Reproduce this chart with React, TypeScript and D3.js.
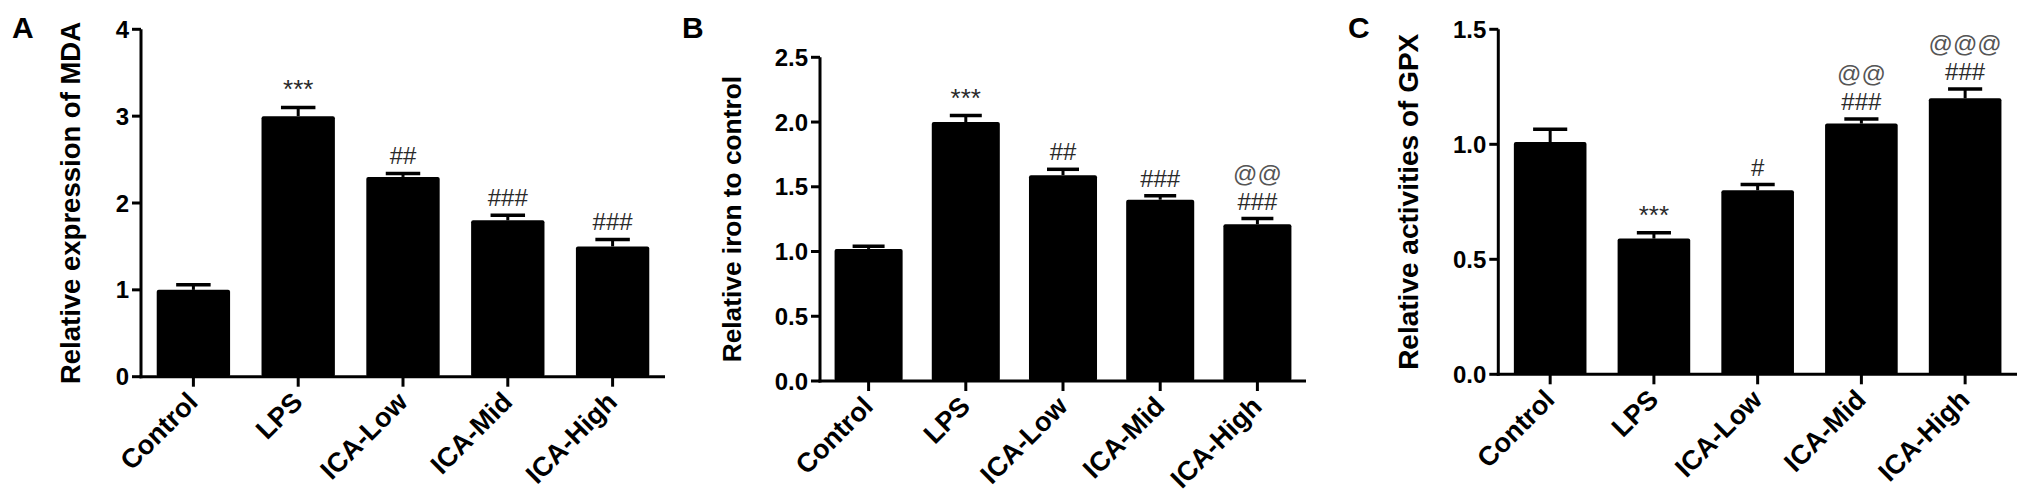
import React from "react";
import * as d3 from "d3";

const categories = ["Control", "LPS", "ICA-Low", "ICA-Mid", "ICA-High"];

const mdaMean = [1.0, 3.0, 2.3, 1.8, 1.5];
const mdaErr = [0.06, 0.1, 0.04, 0.06, 0.08];
const mdaAnn = [[], ["***"], ["##"], ["###"], ["###"]];
const mdaTicks = [0, 1, 2, 3, 4];

const ironMean = [1.02, 2.0, 1.59, 1.4, 1.21];
const ironErr = [0.02, 0.05, 0.045, 0.03, 0.045];
const ironAnn = [[], ["***"], ["##"], ["###"], ["###", "@@"]];
const ironTicks = [0, 0.5, 1.0, 1.5, 2.0, 2.5];

const gpxMean = [1.01, 0.59, 0.8, 1.09, 1.2];
const gpxErr = [0.055, 0.025, 0.025, 0.02, 0.04];
const gpxAnn = [[], ["***"], ["#"], ["###", "@@"], ["###", "@@@"]];
const gpxTicks = [0, 0.5, 1.0, 1.5];

const FONT = "Arial, 'Liberation Sans', Helvetica, sans-serif";

type PanelProps = {
  letter: string;
  letterX: number;
  title: string;
  titleSize: number;
  titleX: number;
  x0: number;
  x1: number;
  yTop: number;
  yBottom: number;
  yMax: number;
  ticks: number[];
  fmt: (v: number) => string;
  means: number[];
  errs: number[];
  ann: string[][];
};

function Panel(p: PanelProps) {
  const x = d3.scaleBand<string>().domain(categories).range([p.x0, p.x1]).paddingInner(0.3).paddingOuter(0.15);
  const y = d3.scaleLinear().domain([0, p.yMax]).range([p.yBottom, p.yTop]);
  const bw = x.bandwidth();
  const capW = bw * 0.47;
  const yc = (p.yTop + p.yBottom) / 2;
  return (
    <g>
      <text x={p.letterX} y={38} fontFamily={FONT} fontWeight="bold" fontSize={30} fill="#000">
        {p.letter}
      </text>
      <text
        transform={`translate(${p.titleX},${yc}) rotate(-90)`}
        textAnchor="middle"
        fontFamily={FONT}
        fontWeight="bold"
        fontSize={p.titleSize}
        fill="#000"
      >
        {p.title}
      </text>
      {categories.map((c, i) => {
        const cx = (x(c) as number) + bw / 2;
        const top = y(p.means[i]);
        const capY = y(p.means[i] + p.errs[i]);
        return (
          <g key={c}>
            <line x1={cx} x2={cx} y1={top} y2={capY} stroke="#000" strokeWidth={3} />
            <line x1={cx - capW / 2} x2={cx + capW / 2} y1={capY} y2={capY} stroke="#000" strokeWidth={3.5} />
            <rect x={x(c)} y={top} width={bw} height={p.yBottom - top} fill="#000" rx={2} />
            {p.ann[i].map((a, k) => (
              <text
                key={k}
                x={cx}
                y={capY - 9 - k * 28}
                textAnchor="middle"
                fontFamily={FONT}
                fontSize={a.startsWith("*") ? 26 : 24}
                fill={a.startsWith("@") ? "#555" : "#2a2a2a"}
              >
                {a}
              </text>
            ))}
            <line x1={cx} x2={cx} y1={p.yBottom} y2={p.yBottom + 10} stroke="#000" strokeWidth={3} />
            <text
              transform={`translate(${cx + 6},${p.yBottom + 27}) rotate(-45)`}
              textAnchor="end"
              fontFamily={FONT}
              fontWeight="bold"
              fontSize={27}
              fill="#000"
            >
              {c}
            </text>
          </g>
        );
      })}
      <line x1={p.x0} x2={p.x0} y1={p.yTop} y2={p.yBottom + 1.5} stroke="#000" strokeWidth={3} />
      <line x1={p.x0 - 1.5} x2={p.x1} y1={p.yBottom} y2={p.yBottom} stroke="#000" strokeWidth={3} />
      {p.ticks.map((t) => (
        <g key={t}>
          <line x1={p.x0 - 9} x2={p.x0} y1={y(t)} y2={y(t)} stroke="#000" strokeWidth={3} />
          <text
            x={p.x0 - 12}
            y={y(t)}
            dy="0.36em"
            textAnchor="end"
            fontFamily={FONT}
            fontWeight="bold"
            fontSize={24}
            fill="#000"
          >
            {p.fmt(t)}
          </text>
        </g>
      ))}
    </g>
  );
}

export default function App() {
  const f0 = d3.format("d");
  const f1 = d3.format(".1f");
  return (
    <svg
      width={2031}
      height={500}
      style={{ position: "absolute", left: 0, top: 0, background: "#fff" }}
    >
      <rect width={2031} height={500} fill="#fff" />
      <Panel
        letter="A"
        letterX={12}
        title="Relative expression of MDA"
        titleSize={27.5}
        titleX={80}
        x0={141}
        x1={665}
        yTop={29.3}
        yBottom={376.7}
        yMax={4}
        ticks={mdaTicks}
        fmt={f0}
        means={mdaMean}
        errs={mdaErr}
        ann={mdaAnn}
      />
      <Panel
        letter="B"
        letterX={682}
        title="Relative iron to control"
        titleSize={26.3}
        titleX={741}
        x0={820}
        x1={1306}
        yTop={57.3}
        yBottom={381}
        yMax={2.5}
        ticks={ironTicks}
        fmt={f1}
        means={ironMean}
        errs={ironErr}
        ann={ironAnn}
      />
      <Panel
        letter="C"
        letterX={1348}
        title="Relative activities of GPX"
        titleSize={28}
        titleX={1418}
        x0={1498.3}
        x1={2017}
        yTop={29.3}
        yBottom={374.3}
        yMax={1.5}
        ticks={gpxTicks}
        fmt={f1}
        means={gpxMean}
        errs={gpxErr}
        ann={gpxAnn}
      />
    </svg>
  );
}
